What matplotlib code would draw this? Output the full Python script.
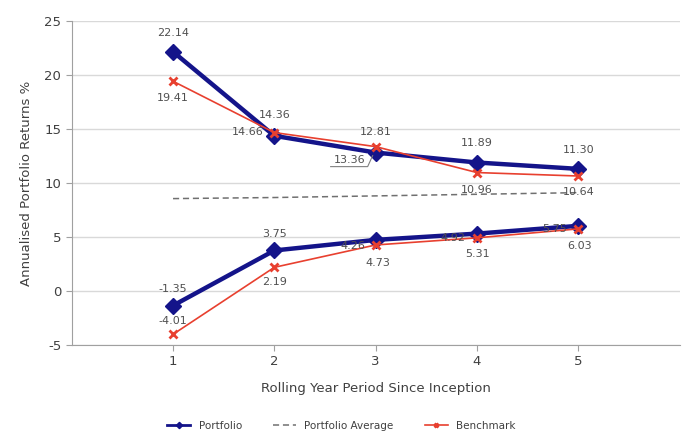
import matplotlib.pyplot as plt
import numpy as np

plt.rcParams['axes.unicode_minus'] = False

# rolling periods
periods = [1, 2, 3, 4, 5]

# upper band (best case) and lower band (worst case) returns
portfolio_high = [22.14, 14.36, 12.81, 11.89, 11.30]
benchmark_high = [19.41, 14.66, 13.36, 10.96, 10.64]
portfolio_low = [-1.35, 3.75, 4.73, 5.31, 6.03]
benchmark_low = [-4.01, 2.19, 4.26, 4.92, 5.75]
portfolio_avg = [8.55, 8.65, 8.8, 8.95, 9.1]

y_ticks = [-5, 0, 5, 10, 15, 20, 25]

navy = '#14148a'
red = '#e8402f'
label_col = '#505050'

fig = plt.figure(figsize=(6.83, 4.34), dpi=100)
ax = fig.add_axes([0.105, 0.205, 0.89, 0.747])
ax.set_xlim(0, 6)
ax.set_ylim(-5, 25)

ax.plot(periods, portfolio_avg, color='#707070', linestyle='--', linewidth=1.1,
        dashes=(4, 2.5), label='Portfolio Average', zorder=2)
ax.plot(periods, portfolio_high, color=navy, linewidth=3.2, marker='D',
        markersize=8, label='Portfolio', zorder=3)
ax.plot(periods, portfolio_low, color=navy, linewidth=3.2, marker='D',
        markersize=8, zorder=3)
ax.plot(periods, benchmark_high, color=red, linewidth=1.2, marker='x',
        markersize=6, markeredgewidth=2, label='Benchmark', zorder=4)
ax.plot(periods, benchmark_low, color=red, linewidth=1.2, marker='x',
        markersize=6, markeredgewidth=2, zorder=4)

# data labels: (dx, dy) in pixels from the marker
port_high_off = [(0, 19), (0, 21), (0, 21), (0, 20), (0, 19)]
bench_high_off = [(0, -17), (-27, 1), (-26, -13), (0, -17), (0, -16)]
port_low_off = [(0, 17), (0, 16), (2, -23), (1, -20), (1, -20)]
bench_low_off = [(0, 13), (0, -15), (-23, -1), (-24, 0), (-24, 0)]


def put_labels(xs, ys, offs):
    for x, y, (dx, dy) in zip(xs, ys, offs):
        ax.annotate(f'{y:.2f}', (x, y), xytext=(dx, dy), textcoords='offset pixels',
                    ha='center', va='center', fontsize=8, color=label_col, zorder=5)


put_labels(periods, portfolio_high, port_high_off)
put_labels(periods, benchmark_high, bench_high_off)
put_labels(periods, portfolio_low, port_low_off)
put_labels(periods, benchmark_low, bench_low_off)

# leader line under the 13.36 label (underline + short diagonal to the marker)
px, py = ax.transData.transform((periods[2], benchmark_high[2]))
leader = np.array([[-45, -20], [-8, -20], [-3, -9]]) + [px, py]
leader = ax.transData.inverted().transform(leader)
ax.plot(leader[:, 0], leader[:, 1], color='#808080', linewidth=0.8, zorder=5)

ax.set_xticks(periods)
ax.set_yticks(y_ticks)
ax.grid(axis='y', color='#d9d9d9', linewidth=1)
ax.set_axisbelow(True)
for s in ['top', 'right']:
    ax.spines[s].set_visible(False)
for s in ['left', 'bottom']:
    ax.spines[s].set_color('#a0a0a0')
ax.tick_params(axis='both', colors='#a0a0a0', labelcolor='#404040', labelsize=9.5, length=4)

ax.set_xlabel('Rolling Year Period Since Inception', fontsize=9.5, color='#404040', labelpad=10)
ax.set_ylabel('Annualised Portfolio Returns %', fontsize=9.5, color='#404040', labelpad=8)

handles, labels = ax.get_legend_handles_labels()
order = [labels.index('Portfolio'), labels.index('Portfolio Average'), labels.index('Benchmark')]
leg = fig.legend([handles[i] for i in order], [labels[i] for i in order], loc='lower center',
                 bbox_to_anchor=(0.5, -0.015), ncol=3, frameon=False, fontsize=7.5,
                 markerscale=0.4, handlelength=2.2, columnspacing=3)
for t in leg.get_texts():
    t.set_color('#404040')
for h in leg.legend_handles:
    h.set_linewidth(min(h.get_linewidth(), 2))

fig.savefig('out.png', dpi=100)
